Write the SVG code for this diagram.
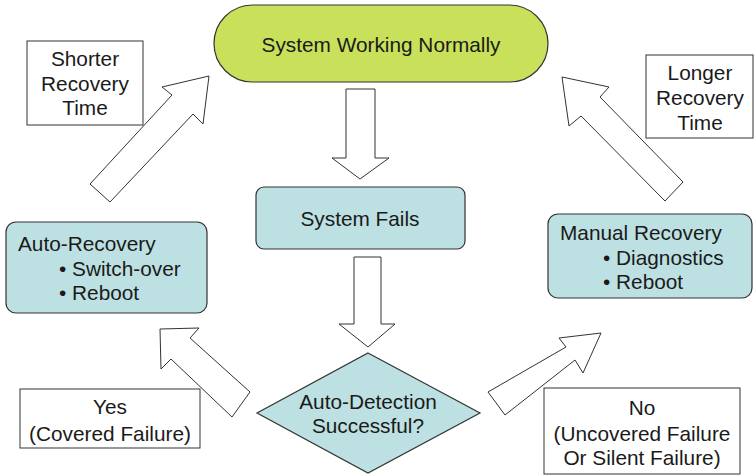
<svg xmlns="http://www.w3.org/2000/svg" width="754" height="475" viewBox="0 0 754 475">
  <style>
    text { font-family: "Liberation Sans", Arial, sans-serif; font-size: 20.8px; fill: #1a1a1a; }
    .c { text-anchor: middle; }
    .node { fill: #bde0e2; stroke: #333; stroke-width: 1.2; }
    .start { fill: #c8e05a; stroke: #333; stroke-width: 1.2; }
    .label { fill: #fff; stroke: #333; stroke-width: 1; }
    .arrow { fill: #fff; stroke: #333; stroke-width: 1; stroke-linejoin: miter; }
  </style>
  <rect width="754" height="475" fill="#fff"/>

  <g id="connectors">
    <polygon class="arrow" points="346,89 375,89 375,158 389,158 360,179 332,158 346,158"/>
    <polygon class="arrow" points="354,257 381,257 381,324 395,324 368,347 339,324 354,324"/>
    <polygon class="arrow" points="90,184 172,95 162,87 209,76 203,124 193,114 110,202"/>
    <polygon class="arrow" points="562,77 609,87 600,97 683,182 665,201 581,116 569,126"/>
    <polygon class="arrow" points="160,329 199,328 190,338 250,392 232,417 171,359 161,369"/>
    <polygon class="arrow" points="488,392 566,347 559,338 601,333 583,373 575,360 505,415"/>
  </g>

  <g id="working">
    <rect class="start" x="214" y="5" width="334" height="77" rx="38.5"/>
    <text class="c" x="381" y="52">System Working Normally</text>
  </g>

  <g id="fails">
    <rect class="node" x="256" y="187" width="209" height="62" rx="8"/>
    <text class="c" x="360" y="226">System Fails</text>
  </g>

  <g id="detection">
    <polygon class="node" points="368,353 480,413 368,473 257,413"/>
    <text class="c" x="368" y="409">Auto-Detection</text>
    <text class="c" x="368" y="433">Successful?</text>
  </g>

  <g id="auto-recovery">
    <rect class="node" x="6" y="222" width="201" height="91" rx="10"/>
    <text x="18" y="251">Auto-Recovery</text>
    <text x="59" y="276">• Switch-over</text>
    <text x="59" y="300">• Reboot</text>
  </g>

  <g id="manual-recovery">
    <rect class="node" x="548" y="214" width="204" height="84" rx="10"/>
    <text x="560" y="240">Manual Recovery</text>
    <text x="603" y="265">• Diagnostics</text>
    <text x="603" y="289">• Reboot</text>
  </g>

  <g id="shorter">
    <rect class="label" x="27" y="41" width="116" height="84"/>
    <text class="c" x="85" y="66">Shorter</text>
    <text class="c" x="85" y="91">Recovery</text>
    <text class="c" x="85" y="115">Time</text>
  </g>

  <g id="longer">
    <rect class="label" x="646" y="55" width="107" height="83"/>
    <text class="c" x="700" y="80">Longer</text>
    <text class="c" x="700" y="105">Recovery</text>
    <text class="c" x="700" y="130">Time</text>
  </g>

  <g id="yes">
    <rect class="label" x="20" y="389" width="180" height="59"/>
    <text class="c" x="110" y="414">Yes</text>
    <text class="c" x="110" y="441">(Covered Failure)</text>
  </g>

  <g id="no">
    <rect class="label" x="544" y="388" width="196" height="86"/>
    <text class="c" x="642" y="415">No</text>
    <text class="c" x="642" y="441">(Uncovered Failure</text>
    <text class="c" x="642" y="465">Or Silent Failure)</text>
  </g>
</svg>
